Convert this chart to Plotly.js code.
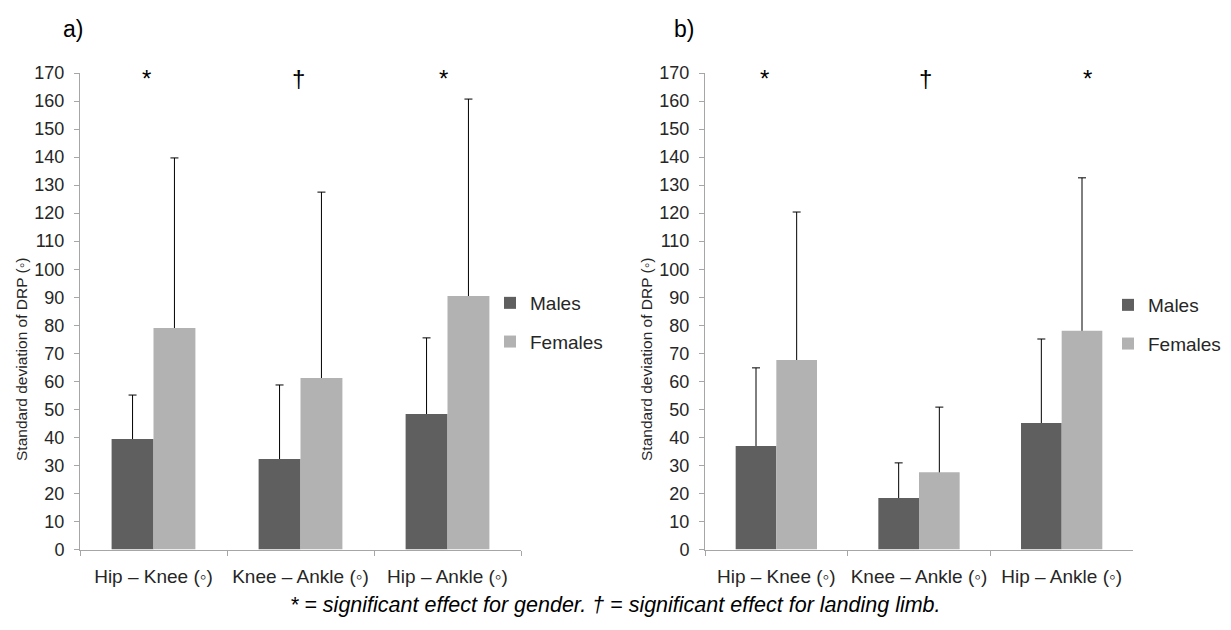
<!DOCTYPE html>
<html>
<head>
<meta charset="utf-8">
<script src="https://cdn.plot.ly/plotly-3.0.1.min.js"></script>
<style>html,body{margin:0;padding:0;background:#fff;}#chart{width:1231px;height:630px;}</style>
</head>
<body>
<div id="chart"></div>
<script>
// ---- data ----
const categories = ["Hip \u2013 Knee (\u25E6)", "Knee \u2013 Ankle (\u25E6)", "Hip \u2013 Ankle (\u25E6)"];
// panel a)
const malesA = [39.4, 32.3, 48.3];
const malesA_sd = [15.7, 26.4, 27.2];
const femalesA = [79.0, 61.2, 90.4];
const femalesA_sd = [60.7, 66.3, 70.3];
// panel b)
const malesB = [36.9, 18.4, 45.1];
const malesB_sd = [27.9, 12.5, 30.0];
const femalesB = [67.6, 27.6, 78.0];
const femalesB_sd = [52.8, 23.2, 54.6];
const seriesNames = ["Males", "Females"];
const yTickVals = [0,10,20,30,40,50,60,70,80,90,100,110,120,130,140,150,160,170];
const marksA = ["*", "\u2020", "*"];
const marksB = ["*", "\u2020", "*"];

// ---- style ----
const FONT = "Liberation Sans, Arial, sans-serif";
const cMale = "#5f5f5f", cFemale = "#b2b2b2", axisCol = "#a6a6a6", txt = "#262626";

function errTrace(vals, sd, group, xa, ya) {
  // transparent carrier for upward error bars; the solid bar drawn after it hides the lower part
  return {type: "bar", x: categories, y: vals, offsetgroup: group, xaxis: xa, yaxis: ya,
    marker: {color: "rgba(0,0,0,0)"}, showlegend: false, hoverinfo: "skip",
    error_y: {type: "data", symmetric: false, array: sd, arrayminus: vals.map(v => v / 2),
      color: "#000", thickness: 1, width: 4}};
}
function barTrace(vals, name, color, group, xa, ya, leg, show) {
  return {type: "bar", x: categories, y: vals, name: name, offsetgroup: group, legendgroup: group,
    xaxis: xa, yaxis: ya, marker: {color: color}, legend: leg, showlegend: show, hoverinfo: "skip"};
}

const data = [
  errTrace(malesA, malesA_sd, "m", "x", "y"),
  errTrace(femalesA, femalesA_sd, "f", "x", "y"),
  barTrace(malesA, seriesNames[0], cMale, "m", "x", "y", "legend", true),
  barTrace(femalesA, seriesNames[1], cFemale, "f", "x", "y", "legend", true),
  errTrace(malesB, malesB_sd, "m", "x2", "y2"),
  errTrace(femalesB, femalesB_sd, "f", "x2", "y2"),
  barTrace(malesB, seriesNames[0], cMale, "m", "x2", "y2", "legend2", true),
  barTrace(femalesB, seriesNames[1], cFemale, "f", "x2", "y2", "legend2", true)
];

function xAxis(domain, anchor) {
  return {domain: domain, anchor: anchor, type: "category", showline: true, linecolor: axisCol, linewidth: 1,
    ticks: "outside", tickson: "boundaries", ticklen: 5, tickcolor: axisCol, showgrid: false, zeroline: false,
    tickangle: 0, tickfont: {family: FONT, size: 19, color: txt}, ticklabelstandoff: 10, fixedrange: true};
}
function yAxis(domain, anchor) {
  return {domain: domain, anchor: anchor, range: [0, 170], tickvals: yTickVals, showline: true, linecolor: axisCol,
    linewidth: 1, ticks: "outside", ticklen: 5, tickcolor: axisCol, showgrid: false, zeroline: false,
    tickfont: {family: FONT, size: 18, color: txt}, ticklabelstandoff: 6, fixedrange: true};
}
const W = 1231, H = 630;
const yDom = [(H - 549.5) / H, (H - 73) / H];

const annotations = [];
marksA.forEach((m, i) => annotations.push({xref: "x", yref: "y", x: categories[i], y: 168, text: m, showarrow: false,
  xshift: [-7, -2, -4][i], font: {family: FONT, size: 24, color: "#000"}}));
marksB.forEach((m, i) => annotations.push({xref: "x2", yref: "y2", x: categories[i], y: 168, text: m, showarrow: false,
  xshift: [-12, 6, 26][i], font: {family: FONT, size: 24, color: "#000"}}));
annotations.push({xref: "paper", yref: "paper", x: 73 / W, y: (H - 29) / H, xanchor: "center", yanchor: "middle",
  text: "a)", showarrow: false, font: {family: FONT, size: 23, color: "#000"}});
annotations.push({xref: "paper", yref: "paper", x: 684 / W, y: (H - 29) / H, xanchor: "center", yanchor: "middle",
  text: "b)", showarrow: false, font: {family: FONT, size: 23, color: "#000"}});
annotations.push({xref: "paper", yref: "paper", x: 21 / W, y: (H - 360) / H, xanchor: "center", yanchor: "middle",
  text: "Standard deviation of DRP (\u25E6)", textangle: -90, showarrow: false,
  font: {family: FONT, size: 15.5, color: txt}});
annotations.push({xref: "paper", yref: "paper", x: 646 / W, y: (H - 360) / H, xanchor: "center", yanchor: "middle",
  text: "Standard deviation of DRP (\u25E6)", textangle: -90, showarrow: false,
  font: {family: FONT, size: 15.5, color: txt}});
annotations.push({xref: "paper", yref: "paper", x: 615 / W, y: (H - 605) / H, xanchor: "center", yanchor: "middle",
  text: "<i>* = significant effect for gender. \u2020 = significant effect for landing limb.</i>", showarrow: false,
  font: {family: FONT, size: 21.5, color: "#000"}});

const legBase = {font: {family: FONT, size: 19, color: txt}, bgcolor: "rgba(0,0,0,0)", borderwidth: 0,
  traceorder: "grouped", tracegroupgap: 11, itemwidth: 30, yanchor: "top", xanchor: "left"};

const layout = {
  width: W, height: H, margin: {l: 0, r: 0, t: 0, b: 0}, paper_bgcolor: "#fff", plot_bgcolor: "#fff",
  barmode: "group", bargap: 0.43, bargroupgap: 0,
  xaxis: xAxis([80 / W, 521 / W], "y"), yaxis: yAxis(yDom, "x"),
  xaxis2: xAxis([705 / W, 1133 / W], "y2"), yaxis2: yAxis(yDom, "x2"),
  legend: Object.assign({}, legBase, {x: 490 / W, y: (H - 284) / H}),
  legend2: Object.assign({}, legBase, {x: 1108 / W, y: (H - 286) / H}),
  annotations: annotations, hovermode: false
};
Plotly.newPlot("chart", data, layout, {displayModeBar: false, staticPlot: true});
</script>
</body>
</html>
